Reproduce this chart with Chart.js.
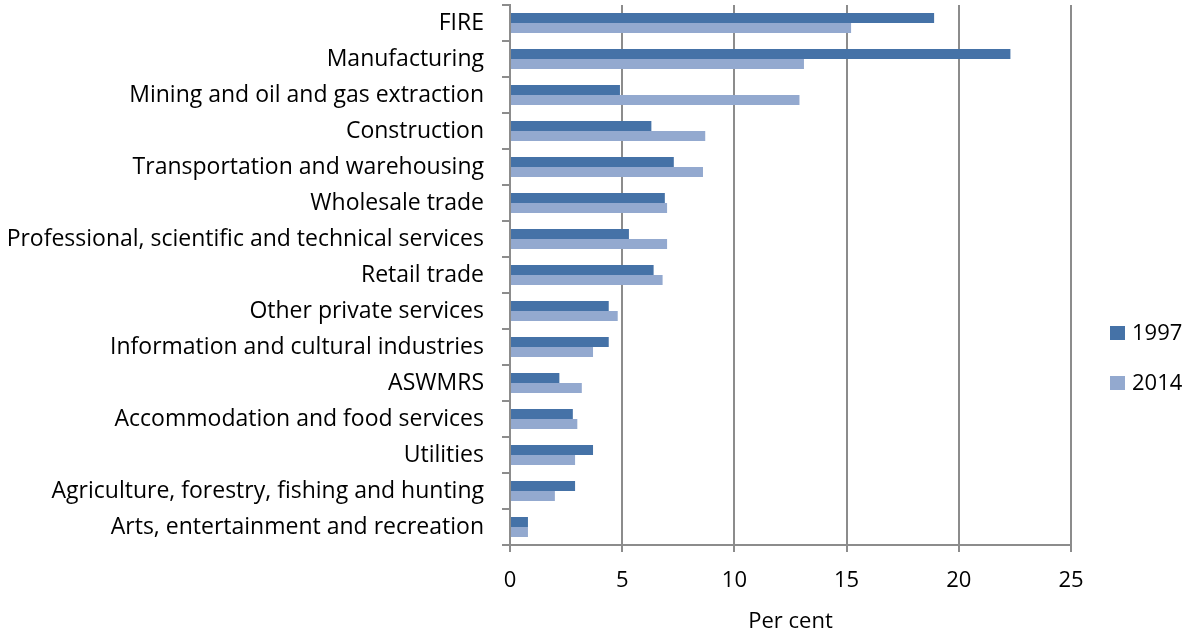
<!DOCTYPE html>
<html>
<head>
<meta charset="utf-8">
<script src="https://cdn.jsdelivr.net/npm/chart.js@4/dist/chart.umd.min.js"></script>
<style>
  html, body { margin: 0; padding: 0; background: #ffffff; }
  #wrap { width: 1185px; height: 635px; position: relative; }
</style>
</head>
<body>
<div id="wrap"><canvas id="chart"></canvas></div>
<script>
// Industry shares of GDP, 1997 vs 2014 (per cent)
const industries = [
  'FIRE',
  'Manufacturing',
  'Mining and oil and gas extraction',
  'Construction',
  'Transportation and warehousing',
  'Wholesale trade',
  'Professional, scientific and technical services',
  'Retail trade',
  'Other private services',
  'Information and cultural industries',
  'ASWMRS',
  'Accommodation and food services',
  'Utilities',
  'Agriculture, forestry, fishing and hunting',
  'Arts, entertainment and recreation'
];
const share1997 = [18.9, 22.3, 4.9, 6.3, 7.3, 6.9, 5.3, 6.4, 4.4, 4.4, 2.2, 2.8, 3.7, 2.9, 0.8];
const share2014 = [15.2, 13.1, 12.9, 8.7, 8.6, 7.0, 7.0, 6.8, 4.8, 3.7, 3.2, 3.0, 2.9, 2.0, 0.8];
const seriesNames = ['1997', '2014'];
const xTicks = [0, 5, 10, 15, 20, 25];

const FONT = '"Open Sans", Lato, sans-serif';
const GRID = '#8c8c8c';

new Chart(document.getElementById('chart'), {
  type: 'bar',
  data: {
    labels: industries,
    datasets: [
      { label: seriesNames[0], data: share1997, backgroundColor: '#4572a7' },
      { label: seriesNames[1], data: share2014, backgroundColor: '#93a9cf' }
    ]
  },
  options: {
    indexAxis: 'y',
    responsive: true,
    maintainAspectRatio: false,
    animation: false,
    devicePixelRatio: 1,
    categoryPercentage: 20 / 36,
    barPercentage: 1,
    layout: { padding: { top: 5, right: 114, left: 0, bottom: 0 } },
    plugins: {
      tooltip: { enabled: false },
      legend: { display: false }
    },
    scales: {
      x: {
        min: 0,
        max: 25,
        afterBuildTicks: (scale) => { scale.ticks = xTicks.map(v => ({ value: v })); },
        afterFit: (scale) => { scale.height = 90; },
        grid: { color: GRID, lineWidth: 2, tickLength: 7, drawOnChartArea: true },
        border: { color: GRID, width: 2 },
        ticks: { color: '#000', font: { family: FONT, size: 22 }, padding: 16 },
        title: { display: true, text: 'Per cent', color: '#000', font: { family: FONT, size: 22 }, padding: { top: 2, bottom: 0 } }
      },
      y: {
        afterFit: (scale) => {
          scale.width = 510;
          scale.paddingTop = 0;
          scale.paddingBottom = 0;
        },
        grid: { color: GRID, lineWidth: 2, tickLength: 8, drawOnChartArea: false, offset: true },
        border: { color: GRID, width: 2 },
        ticks: { color: '#000', font: { family: FONT, size: 23 }, padding: 18, autoSkip: false }
      }
    }
  },
  plugins: [{
    // Legend swatches and labels to the right of the plot
    id: 'sideLegend',
    afterDraw(chart) {
      const ctx = chart.ctx;
      const x0 = chart.chartArea.right + 39;
      const gap = 50;
      ctx.save();
      ctx.font = '22px ' + FONT;
      ctx.textBaseline = 'middle';
      chart.data.datasets.forEach((ds, i) => {
        const cy = chart.chartArea.top + 328 + i * gap;
        ctx.fillStyle = ds.backgroundColor;
        ctx.fillRect(x0, cy - 7, 15, 14);
        ctx.fillStyle = '#000';
        ctx.fillText(ds.label, x0 + 22, cy + 1);
      });
      ctx.restore();
    }
  }]
});
</script>
</body>
</html>
